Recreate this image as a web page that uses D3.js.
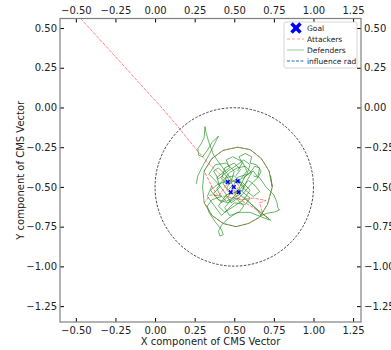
<!DOCTYPE html>
<html>
<head>
<meta charset="utf-8">
<script src="https://cdn.jsdelivr.net/npm/d3@7"></script>
<style>
  body { margin: 0; background: #fff; }
  text { font-family: "DejaVu Sans", sans-serif; }
</style>
</head>
<body>
<div id="my_dataviz"></div>
<script>
// tick values
var xTicks = [-0.5, -0.25, 0, 0.25, 0.5, 0.75, 1.0, 1.25]
var yTicks = [-1.25, -1.0, -0.75, -0.5, -0.25, 0, 0.25, 0.5]

// goal positions
var goals = [[0.459, -0.469], [0.522, -0.463], [0.497, -0.501], [0.478, -0.533], [0.528, -0.533]]

// influence radius around the goal
var influenceCenter = [0.5, -0.5]
var influenceRadius = 0.5

// attacker trajectory
var attackerPath = [[-0.47, 0.56], [-0.30, 0.375], [-0.10, 0.155], [0.05, -0.01], [0.14, -0.115],
    [0.20, -0.19], [0.27, -0.275], [0.33, -0.345], [0.39, -0.40], [0.43, -0.44], [0.47, -0.47],
    [0.45, -0.52], [0.50, -0.55], [0.53, -0.49], [0.48, -0.45], [0.44, -0.50], [0.40, -0.56],
    [0.36, -0.50], [0.31, -0.40], [0.36, -0.32], [0.43, -0.27], [0.52, -0.25], [0.60, -0.265],
    [0.67, -0.32], [0.72, -0.40], [0.74, -0.50], [0.71, -0.61], [0.66, -0.69], [0.59, -0.73],
    [0.51, -0.75], [0.43, -0.73], [0.36, -0.68], [0.31, -0.60], [0.35, -0.55], [0.45, -0.56],
    [0.55, -0.58], [0.62, -0.57], [0.70, -0.585], [0.66, -0.60], [0.68, -0.67], [0.72, -0.70],
    [0.62, -0.63], [0.52, -0.57], [0.49, -0.51]]

// defender trajectories
var defenderLoop = [[0.74, -0.50], [0.72, -0.40], [0.67, -0.32], [0.60, -0.265], [0.52, -0.25],
    [0.43, -0.27], [0.36, -0.32], [0.31, -0.40], [0.30, -0.50], [0.31, -0.60], [0.36, -0.68],
    [0.43, -0.73], [0.51, -0.75], [0.59, -0.73], [0.66, -0.69], [0.71, -0.61], [0.74, -0.50],
    [0.73, -0.43]]
var defenderLasso = [[0.48, -0.45], [0.42, -0.37], [0.37, -0.30], [0.34, -0.22], [0.32, -0.15],
    [0.315, -0.12], [0.31, -0.19], [0.29, -0.23], [0.27, -0.26], [0.275, -0.30], [0.30, -0.31],
    [0.33, -0.27], [0.36, -0.22], [0.40, -0.18], [0.38, -0.22], [0.34, -0.30], [0.30, -0.37],
    [0.27, -0.43], [0.26, -0.48]]
var defenderScribble = [[0.50, -0.50], [0.44, -0.42], [0.40, -0.38], [0.37, -0.40], [0.40, -0.45],
    [0.46, -0.40], [0.52, -0.36], [0.56, -0.33], [0.60, -0.36], [0.58, -0.42], [0.52, -0.44],
    [0.47, -0.55], [0.42, -0.60], [0.38, -0.56], [0.35, -0.52], [0.40, -0.48], [0.47, -0.46],
    [0.55, -0.47], [0.60, -0.52], [0.56, -0.58], [0.50, -0.62], [0.44, -0.66], [0.40, -0.62],
    [0.45, -0.55], [0.52, -0.53], [0.57, -0.43], [0.62, -0.40], [0.65, -0.44], [0.60, -0.49],
    [0.54, -0.56], [0.48, -0.60], [0.43, -0.52], [0.38, -0.46], [0.34, -0.42], [0.38, -0.36],
    [0.45, -0.35], [0.50, -0.40], [0.48, -0.47]]
var defenderScribble2 = [[0.52, -0.48], [0.58, -0.40], [0.55, -0.34], [0.49, -0.31], [0.45, -0.33],
    [0.47, -0.38], [0.43, -0.41], [0.39, -0.44], [0.41, -0.50], [0.37, -0.54], [0.40, -0.58],
    [0.46, -0.60], [0.51, -0.57], [0.56, -0.62], [0.53, -0.66], [0.47, -0.68], [0.44, -0.63],
    [0.48, -0.58], [0.54, -0.51], [0.59, -0.46], [0.63, -0.49], [0.66, -0.53], [0.62, -0.56],
    [0.57, -0.52], [0.51, -0.45], [0.46, -0.49], [0.42, -0.45], [0.44, -0.38], [0.50, -0.35],
    [0.54, -0.39], [0.51, -0.43]]
var defenderScribble3 = [[0.49, -0.49], [0.46, -0.52], [0.43, -0.48], [0.45, -0.44], [0.50, -0.43],
    [0.53, -0.46], [0.56, -0.50], [0.53, -0.55], [0.49, -0.57], [0.45, -0.59], [0.41, -0.55],
    [0.39, -0.51], [0.42, -0.47], [0.47, -0.41], [0.52, -0.38], [0.57, -0.37], [0.61, -0.41],
    [0.58, -0.46], [0.55, -0.53], [0.60, -0.57], [0.57, -0.61], [0.50, -0.60], [0.46, -0.64],
    [0.42, -0.68], [0.39, -0.64], [0.36, -0.60], [0.33, -0.56], [0.36, -0.49]]
var defenderTop = [[0.52, -0.40], [0.55, -0.35], [0.53, -0.31], [0.57, -0.29], [0.61, -0.31],
    [0.60, -0.35], [0.64, -0.36], [0.67, -0.40], [0.65, -0.44], [0.62, -0.43]]
var defenderRight = [[0.55, -0.45], [0.60, -0.41], [0.63, -0.37], [0.66, -0.38], [0.65, -0.43],
    [0.68, -0.47], [0.70, -0.50], [0.75, -0.55], [0.77, -0.60], [0.775, -0.63], [0.786, -0.645],
    [0.754, -0.658], [0.71, -0.665], [0.67, -0.68], [0.64, -0.64], [0.60, -0.60], [0.56, -0.56]]
var defenderBottom = [[0.50, -0.52], [0.56, -0.57], [0.62, -0.62], [0.68, -0.67], [0.73, -0.71],
    [0.70, -0.70], [0.60, -0.66], [0.52, -0.66], [0.46, -0.70], [0.42, -0.74], [0.40, -0.78],
    [0.41, -0.81], [0.43, -0.80], [0.42, -0.77], [0.38, -0.72], [0.34, -0.66], [0.33, -0.62],
    [0.36, -0.58], [0.42, -0.56]]
var defenderPaths = [defenderLoop, defenderLasso, defenderScribble, defenderScribble2,
    defenderScribble3, defenderTop, defenderRight, defenderBottom]

var legendLabels = ["Goal", "Attackers", "Defenders", "influence rad"]

// set the dimensions of the graph
var W = 391, H = 350
var plot = { left: 60, right: 361, top: 18.5, bottom: 322 }

var svg = d3.select("#my_dataviz")
    .append("svg")
    .attr("width", W)
    .attr("height", H)

var x = d3.scaleLinear().domain([-0.6, 1.3]).range([plot.left, plot.right])
var y = d3.scaleLinear().domain([-1.35, 0.56]).range([plot.bottom, plot.top])
var fmt = d3.format(".2f")

// axes on all four sides, ticks pointing in
function styleAxis(g) {
    g.select(".domain").remove()
    g.selectAll(".tick line").attr("stroke", "#000").attr("stroke-width", 1)
    g.selectAll(".tick text").attr("fill", "#222").style("font-size", "10px")
}
svg.append("g").attr("transform", "translate(0," + plot.bottom + ")")
    .call(d3.axisBottom(x).tickValues(xTicks).tickFormat(fmt).tickSizeInner(-4).tickSizeOuter(0).tickPadding(5))
    .call(styleAxis)
svg.append("g").attr("transform", "translate(0," + plot.top + ")")
    .call(d3.axisTop(x).tickValues(xTicks).tickFormat(fmt).tickSizeInner(-4).tickSizeOuter(0).tickPadding(5))
    .call(styleAxis)
svg.append("g").attr("transform", "translate(" + plot.left + ",0)")
    .call(d3.axisLeft(y).tickValues(yTicks).tickFormat(fmt).tickSizeInner(-4).tickSizeOuter(0).tickPadding(3))
    .call(styleAxis)
svg.append("g").attr("transform", "translate(" + plot.right + ",0)")
    .call(d3.axisRight(y).tickValues(yTicks).tickFormat(fmt).tickSizeInner(-4).tickSizeOuter(0).tickPadding(3))
    .call(styleAxis)

var clip = svg.append("clipPath").attr("id", "clip")
    .append("rect")
    .attr("x", plot.left).attr("y", plot.top)
    .attr("width", plot.right - plot.left).attr("height", plot.bottom - plot.top)
var area = svg.append("g").attr("clip-path", "url(#clip)")

var line = d3.line().x(function(d) { return x(d[0]) }).y(function(d) { return y(d[1]) })

// influence radius
area.append("circle")
    .attr("cx", x(influenceCenter[0]))
    .attr("cy", y(influenceCenter[1]))
    .attr("r", x(influenceCenter[0] + influenceRadius) - x(influenceCenter[0]))
    .attr("fill", "none")
    .attr("stroke", "#333")
    .attr("stroke-width", 0.9)
    .attr("stroke-dasharray", "2.5,1.5")

// attacker (under the defenders)
area.append("path")
    .attr("d", line(attackerPath))
    .attr("fill", "none")
    .attr("stroke", "#ff2020")
    .attr("stroke-opacity", 0.7)
    .attr("stroke-width", 0.8)
    .attr("stroke-dasharray", "3.5,1.2")

// defenders
area.selectAll(".def")
    .data(defenderPaths)
    .enter()
    .append("path")
    .attr("class", "def")
    .attr("d", line)
    .attr("fill", "none")
    .attr("stroke", "#1f8f1f")
    .attr("stroke-opacity", 0.75)
    .attr("stroke-width", 0.9)
    .attr("stroke-linejoin", "round")

// goal markers
function xMark(g, s, w) {
    g.append("line").attr("x1", -s).attr("y1", -s).attr("x2", s).attr("y2", s)
    g.append("line").attr("x1", -s).attr("y1", s).attr("x2", s).attr("y2", -s)
    g.selectAll("line").attr("stroke", "#0000ff").attr("stroke-width", w)
}
area.selectAll(".goal")
    .data(goals)
    .enter()
    .append("g")
    .attr("class", "goal")
    .attr("transform", function(d) { return "translate(" + x(d[0]) + "," + y(d[1]) + ")" })
    .each(function() { xMark(d3.select(this), 1.8, 1.5) })

// frame
svg.append("rect")
    .attr("x", plot.left).attr("y", plot.top)
    .attr("width", plot.right - plot.left).attr("height", plot.bottom - plot.top)
    .attr("fill", "none")
    .attr("stroke", "#808080")
    .attr("stroke-width", 1.2)

// axis labels
svg.append("text")
    .attr("x", (plot.left + plot.right) / 2)
    .attr("y", 345)
    .attr("text-anchor", "middle")
    .style("font-size", "10px")
    .attr("fill", "#222")
    .text("X component of CMS Vector")
svg.append("text")
    .attr("transform", "translate(24," + (plot.top + plot.bottom) / 2 + ") rotate(-90)")
    .attr("text-anchor", "middle")
    .style("font-size", "10px")
    .attr("fill", "#222")
    .text("Y component of CMS Vector")

// legend
var legend = svg.append("g")
legend.append("rect")
    .attr("x", 284).attr("y", 22).attr("width", 73).attr("height", 46)
    .attr("rx", 2)
    .attr("fill", "#fff").attr("fill-opacity", 0.85)
    .attr("stroke", "#ccc").attr("stroke-width", 0.8)
var rowY = [28, 39, 50, 61]
legendLabels.forEach(function(lab, i) {
    var ly = rowY[i]
    if (i == 0) {
        var g = legend.append("g").attr("transform", "translate(296," + ly + ")")
        xMark(g, 4.5, 3.6)
    } else {
        legend.append("line")
            .attr("x1", 287).attr("x2", 304).attr("y1", ly).attr("y2", ly)
            .attr("stroke", ["", "#ff2020", "#2ca02c", "#1f77b4"][i])
            .attr("stroke-opacity", [1, 0.5, 0.5, 1][i])
            .attr("stroke-width", [1, 0.9, 1, 1.2][i])
            .attr("stroke-dasharray", ["", "3,2", "", "3,1.5"][i])
    }
    legend.append("text")
        .attr("x", 307).attr("y", ly + 2.7)
        .style("font-size", "7.5px")
        .attr("fill", "#222")
        .text(lab)
})
</script>
</body>
</html>
